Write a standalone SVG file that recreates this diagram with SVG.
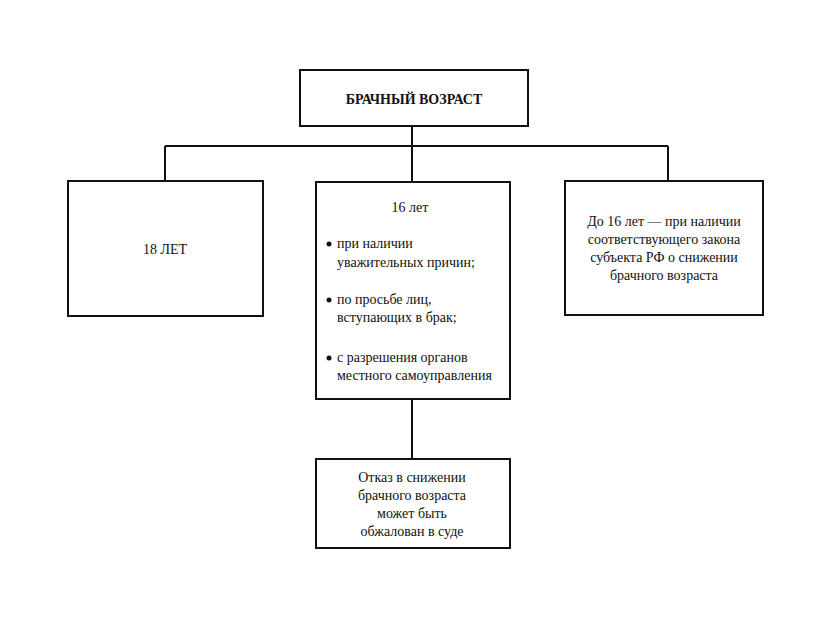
<svg xmlns="http://www.w3.org/2000/svg" width="831" height="623" viewBox="0 0 831 623">
<style>
rect{fill:#fff;stroke:#111;stroke-width:2}
line{stroke:#111;stroke-width:2}
text{font-family:"Liberation Serif",serif;font-size:14px;fill:#111}
.c{text-anchor:middle}
</style>
<rect x="0" y="0" width="831" height="623" style="stroke:none"/>
<g id="connectors">
<line x1="412" y1="126" x2="412" y2="182"/>
<line x1="165" y1="146" x2="668" y2="146"/>
<line x1="165" y1="146" x2="165" y2="181"/>
<line x1="668" y1="146" x2="668" y2="181"/>
<line x1="412" y1="399" x2="412" y2="459"/>
</g>
<g id="top"><rect x="300" y="70" width="228" height="56"/><text x="414" y="104" class="c" font-weight="bold">БРАЧНЫЙ ВОЗРАСТ</text></g>
<g id="left"><rect x="68" y="181" width="195" height="135"/><text x="165" y="254" class="c">18 ЛЕТ</text></g>
<g id="middle"><rect x="316" y="182" width="194" height="217"/>
<text x="410" y="212" class="c">16 лет</text>
<circle cx="329" cy="244" r="2.5" fill="#111"/><circle cx="329" cy="300" r="2.5" fill="#111"/><circle cx="329" cy="358" r="2.5" fill="#111"/>
<text x="337" y="248">при наличии</text><text x="337" y="267">уважительных причин;</text>
<text x="337" y="304">по просьбе лиц,</text><text x="337" y="322">вступающих в брак;</text>
<text x="337" y="362">с разрешения органов</text><text x="337" y="380">местного самоуправления</text></g>
<g id="right"><rect x="565" y="181" width="198" height="134"/>
<text x="664" y="226" class="c">До 16 лет — при наличии</text><text x="664" y="244" class="c">соответствующего закона</text><text x="664" y="262" class="c">субъекта РФ о снижении</text><text x="664" y="280" class="c">брачного возраста</text></g>
<g id="bottom"><rect x="316" y="459" width="194" height="89"/>
<text x="412" y="482" class="c">Отказ в снижении</text><text x="412" y="500" class="c">брачного возраста</text><text x="412" y="518" class="c">может быть</text><text x="412" y="536" class="c">обжалован в суде</text></g>
</svg>
